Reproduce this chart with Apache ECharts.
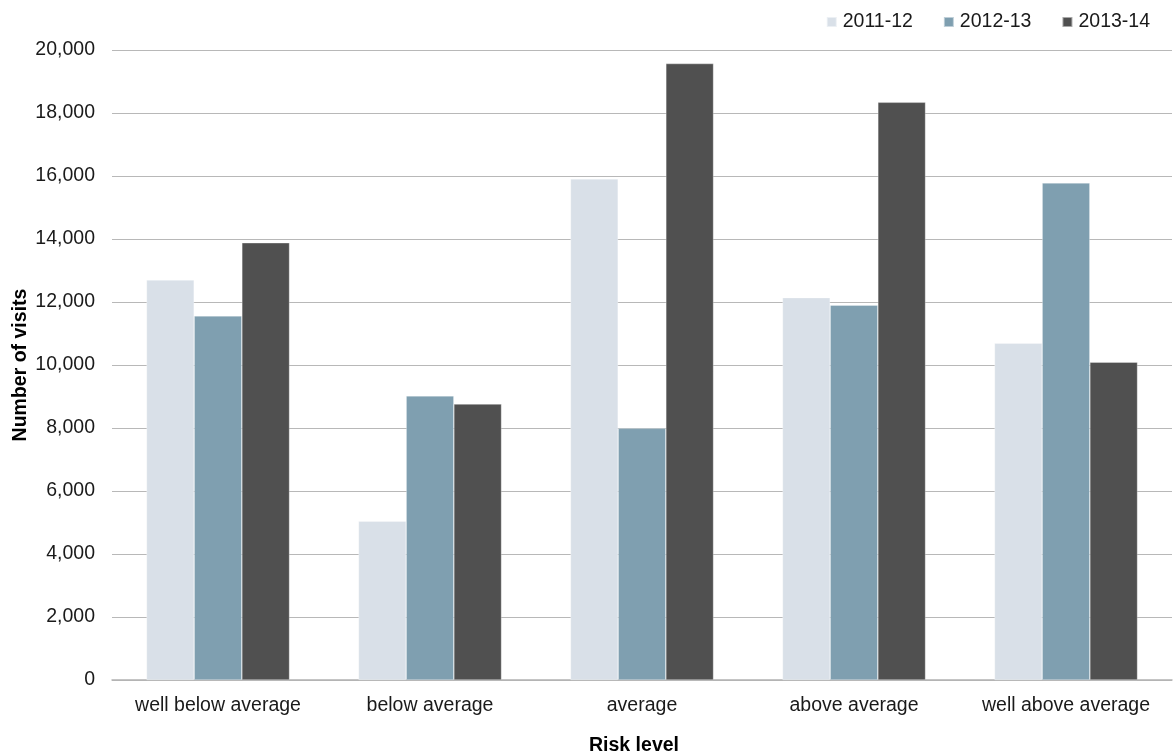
<!DOCTYPE html>
<html>
<head>
<meta charset="utf-8">
<script src="https://cdn.jsdelivr.net/npm/echarts@6/dist/echarts.min.js"></script>
<style>
  html, body { margin: 0; padding: 0; background: #ffffff; }
  #chart { width: 1173px; height: 753px; }
</style>
</head>
<body>
<div id="chart"></div>
<script>
// Risk level categories along the x axis
const categories = ['well below average', 'below average', 'average', 'above average', 'well above average'];

// Number of visits per year
const visits2011 = [12700, 5040, 15910, 12140, 10690];
const visits2012 = [11560, 9020, 7990, 11900, 15780];
const visits2013 = [13880, 8760, 19570, 18340, 10090];

// Y axis ticks
const yMin = 0;
const yMax = 20000;
const yStep = 2000;

const FONT = '"Liberation Sans", Arial, sans-serif';
const FS = 19.5;

const chart = echarts.init(document.getElementById('chart'), null, { renderer: 'canvas' });

function barSeries(name, data, color) {
  return {
    name: name,
    type: 'bar',
    data: data,
    barGap: '0%',
    barCategoryGap: '32.5%',
    itemStyle: { color: color, borderColor: 'rgba(255,255,255,0.5)', borderWidth: 0.6 }
  };
}

chart.setOption({
  animation: false,
  backgroundColor: '#ffffff',
  textStyle: { fontFamily: FONT },
  legend: {
    top: 7,
    right: 18,
    itemWidth: 10,
    itemHeight: 10,
    itemGap: 30,
    icon: 'rect',
    textStyle: { fontFamily: FONT, fontSize: FS, color: '#1a1a1a', padding: [0, 0, 0, 1] },
    data: ['2011-12', '2012-13', '2013-14']
  },
  grid: { left: 112, right: 1, top: 50, bottom: 73, containLabel: false, outerBoundsMode: 'none' },
  xAxis: {
    type: 'category',
    data: categories,
    name: 'Risk level',
    nameLocation: 'middle',
    nameGap: 56,
    nameMoveOverlap: false,
    nameTextStyle: { fontFamily: FONT, fontSize: FS, fontWeight: 'bold', color: '#000000', padding: [0, 16, 0, 0] },
    axisLine: { show: true, lineStyle: { color: '#b3b3b3', width: 1.5 } },
    axisTick: { show: false },
    axisLabel: { fontFamily: FONT, fontSize: FS, color: '#1a1a1a', margin: 16, interval: 0 }
  },
  yAxis: {
    type: 'value',
    min: yMin,
    max: yMax,
    interval: yStep,
    name: 'Number of visits',
    nameLocation: 'middle',
    nameGap: 81,
    nameMoveOverlap: false,
    nameRotate: 90,
    nameTextStyle: { fontFamily: FONT, fontSize: FS, fontWeight: 'bold', color: '#000000' },
    axisLine: { show: false },
    axisTick: { show: false },
    splitLine: { show: true, lineStyle: { color: '#b8b8b8', width: 1 } },
    axisLabel: {
      fontFamily: FONT, fontSize: FS, color: '#1a1a1a', margin: 17,
      formatter: v => v.toLocaleString('en-US')
    }
  },
  series: [
    barSeries('2011-12', visits2011, '#d9e0e8'),
    barSeries('2012-13', visits2012, '#7f9fb0'),
    barSeries('2013-14', visits2013, '#505050')
  ]
});
</script>
</body>
</html>
